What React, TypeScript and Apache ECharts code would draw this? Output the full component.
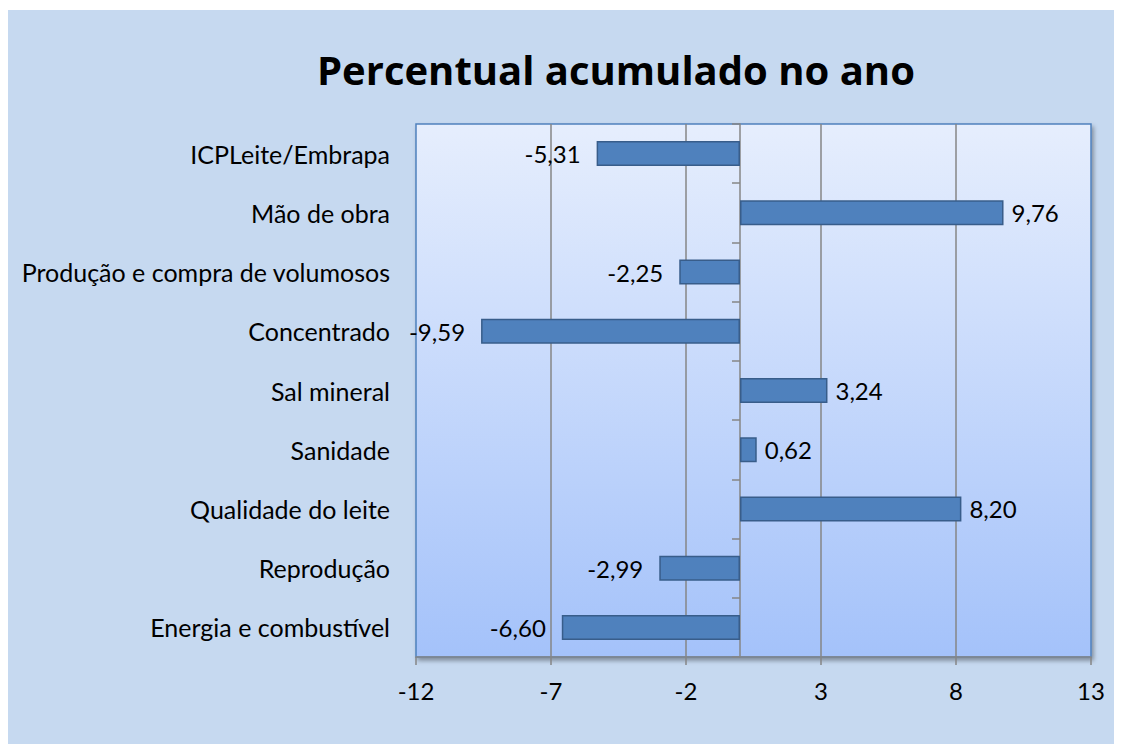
import React, { useEffect, useRef } from "react";
import * as echarts from "echarts";

const title = "Percentual acumulado no ano";
const categories = [
  "ICPLeite/Embrapa",
  "Mão de obra",
  "Produção e compra de volumosos",
  "Concentrado",
  "Sal mineral",
  "Sanidade",
  "Qualidade do leite",
  "Reprodução",
  "Energia e combustível",
];
const values = [-5.31, 9.76, -2.25, -9.59, 3.24, 0.62, 8.2, -2.99, -6.6];
const xTicks = [-12, -7, -2, 3, 8, 13];

const FONT = "Lato";

export default function App() {
  const ref = useRef<HTMLDivElement>(null);
  useEffect(() => {
    if (!ref.current) return;
    const chart = echarts.init(ref.current, null, { renderer: "svg" });
    const xMin = xTicks[0];
    const xMax = xTicks[xTicks.length - 1];
    const step = xTicks[1] - xTicks[0];
    chart.setOption({
      animation: false,
      backgroundColor: "transparent",
      graphic: [
        {
          type: "rect",
          z: -10,
          silent: true,
          shape: { x: 0, y: 2, width: 1114, height: 734 },
          style: { fill: "#c6d9f0" },
        },
      ],
      title: {
        text: title,
        left: 304,
        top: 36,
        textStyle: {
          fontFamily: "Open Sans",
          fontWeight: "bold",
          fontSize: 40,
          color: "#000",
        },
      },
      grid: {
        left: 408,
        right: 31,
        top: 116,
        bottom: 87,
        show: true,
        borderColor: "#4f81bd",
        borderWidth: 1.5,
        backgroundColor: new echarts.graphic.LinearGradient(0, 0, 0, 1, [
          { offset: 0, color: "#e6eefd" },
          { offset: 1, color: "#a4c2fa" },
        ]),
        shadowColor: "rgba(0,0,0,0.35)",
        shadowBlur: 4,
        shadowOffsetX: 2,
        shadowOffsetY: 3,
      },
      xAxis: [
        {
          type: "value",
          min: xMin,
          max: xMax,
          position: "bottom",
          axisLine: { show: false },
          axisTick: { show: false },
          axisLabel: { show: false },
          splitLine: { show: false },
        },
        {
          type: "value",
          min: 0,
          max: xMax - xMin,
          interval: step,
          position: "bottom",
          axisLine: { show: true, onZero: false, lineStyle: { color: "#868686", width: 1.5 } },
          axisTick: { show: true, length: 8, lineStyle: { color: "#868686", width: 1.5 } },
          axisLabel: {
            margin: 21,
            fontFamily: FONT,
            fontSize: 24,
            color: "#000",
            formatter: (v: number) => String(v + xMin),
          },
          splitLine: {
            show: true,
            showMinLine: false,
            showMaxLine: false,
            lineStyle: { color: "#868686", width: 1.5 },
          },
        },
      ],
      yAxis: [
        {
          type: "category",
          data: categories,
          inverse: true,
          axisLine: {
            show: true,
            onZero: true,
            onZeroAxisIndex: 0,
            lineStyle: { color: "#868686", width: 1.5 },
          },
          axisTick: { show: true, length: 8, lineStyle: { color: "#868686", width: 1.5 } },
          axisLabel: { show: false },
          splitLine: { show: false },
        },
        {
          type: "category",
          data: categories,
          inverse: true,
          position: "left",
          axisLine: { show: false, onZero: false },
          axisTick: { show: false },
          axisLabel: {
            show: true,
            margin: 26,
            fontFamily: FONT,
            fontSize: 25,
            color: "#000",
          },
          splitLine: { show: false },
        },
      ],
      series: [
        {
          type: "bar",
          xAxisIndex: 0,
          yAxisIndex: 0,
          barWidth: 25,
          itemStyle: { color: "#4f81bd", borderColor: "#385d8a", borderWidth: 1.5 },
          data: values.map((v) => ({
            value: v,
            label: { position: v < 0 ? "left" : "right", distance: v < 0 ? 16 : 8 },
          })),
          label: {
            show: true,
            fontFamily: FONT,
            fontSize: 24,
            color: "#000",
            formatter: (p: any) => Number(p.value).toFixed(2).replace(".", ","),
          },
        },
      ],
    });
    return () => chart.dispose();
  }, []);
  return <div ref={ref} style={{ width: 1114, height: 736 }} />;
}
